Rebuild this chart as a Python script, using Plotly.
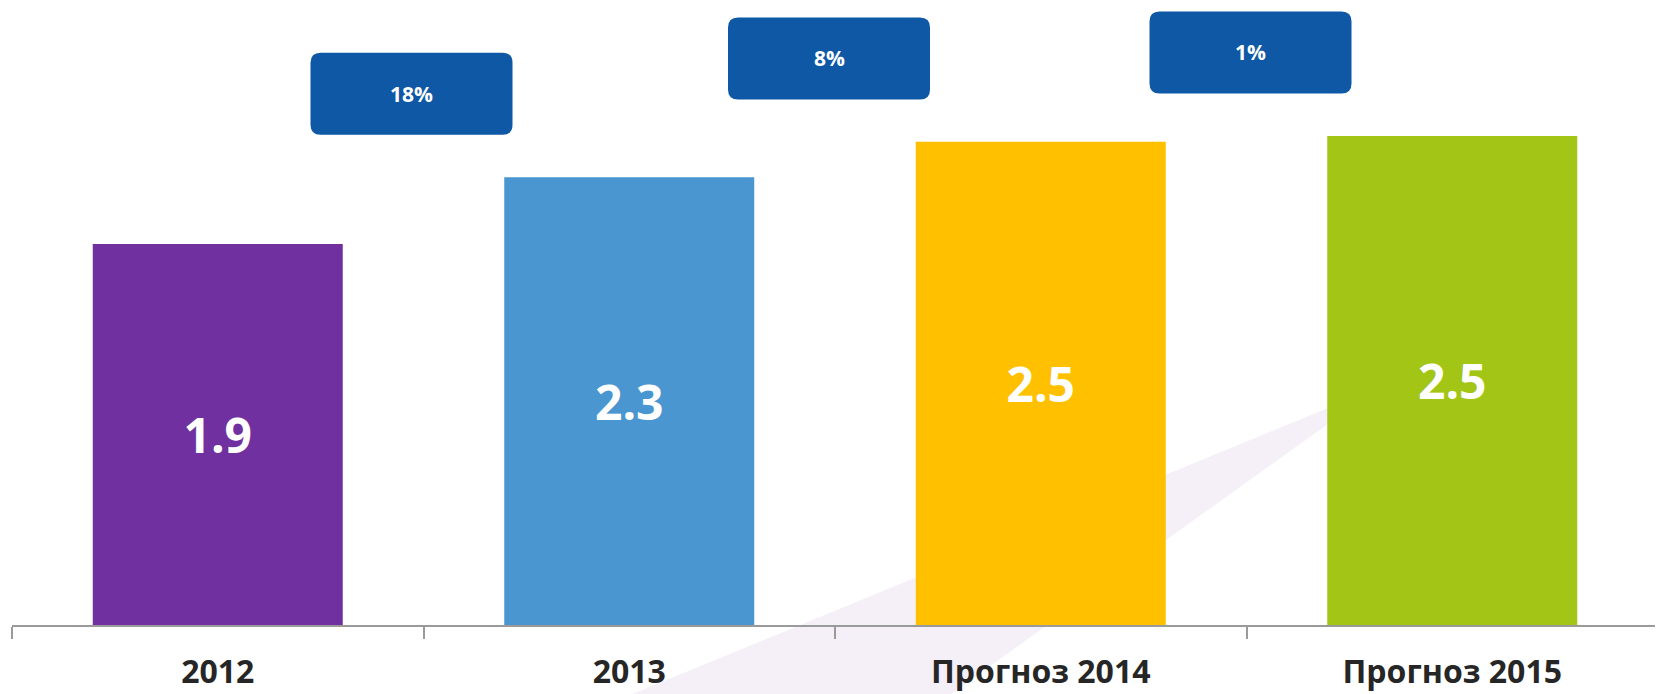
import plotly.graph_objects as go

# ---- data ----
categories = ["2012", "2013", "Прогноз 2014", "Прогноз 2015"]
values = [1.94, 2.28, 2.46, 2.49]
value_labels = ["1.9", "2.3", "2.5", "2.5"]
bar_colors = ["#7030A0", "#4A96D0", "#FFC000", "#A3C516"]
growth_labels = ["18%", "8%", "1%"]

# ---- style ----
PAGE_PAD = 8                      # default body margin of the html page
W, H = 1663 - PAGE_PAD, 694 - PAGE_PAD
L, R, T, B = 4, 5, 0, 69
plot_w = W - L - R
plot_h = H - T - B
px_per_unit = 196.4
y_max = plot_h / px_per_unit
cat_px = plot_w / len(categories)

box_w = 202 / cat_px          # in category units
box_h = 82 / px_per_unit      # in value units
rx = 10 / cat_px
ry = 10 / px_per_unit
box_offset = 0.425            # box centre above the next bar's top
box_dx_px = [-12, -6, 4]      # small horizontal nudges of the boxes
box_color = "#0E58A5"
text_dark = "#262626"
axis_gray = "#9A9A9A"
FONT = "Open Sans"

fig = go.Figure()
fig.add_trace(go.Bar(
    x=categories, y=values,
    marker=dict(color=bar_colors, line=dict(width=0)),
    width=250 / cat_px,
    text=value_labels, textposition="inside", insidetextanchor="middle",
    textangle=0,
    textfont=dict(family=FONT, size=48, color="white", weight="bold"),
    hoverinfo="skip",
))

shapes = []
annotations = []


def rounded_rect(x0, y0, x1, y1):
    return (f"M {x0+rx},{y0} L {x1-rx},{y0} Q {x1},{y0} {x1},{y0+ry} "
            f"L {x1},{y1-ry} Q {x1},{y1} {x1-rx},{y1} L {x0+rx},{y1} "
            f"Q {x0},{y1} {x0},{y1-ry} L {x0},{y0+ry} Q {x0},{y0} {x0+rx},{y0} Z")


for i, lab in enumerate(growth_labels):
    xc = i + 0.5 + box_dx_px[i] / cat_px
    yc = values[i + 1] + box_offset
    shapes.append(dict(
        type="path", xref="x", yref="y",
        path=rounded_rect(xc - box_w / 2, yc - box_h / 2, xc + box_w / 2, yc + box_h / 2),
        fillcolor=box_color, line=dict(width=0), layer="above",
    ))
    annotations.append(dict(
        x=xc, y=yc, xref="x", yref="y", text=lab, showarrow=False,
        font=dict(family=FONT, size=21, color="white", weight="bold"),
    ))


# faint decorative diagonal band behind the bars (page pixel -> paper)
def pp(px, py):
    return f"{(px - 12) / plot_w:.4f},{(625 - py) / plot_h:.4f}"


shapes.append(dict(
    type="path", xref="paper", yref="paper",
    path=f"M {pp(613, 702)} L {pp(1328, 408)} L {pp(1328, 424)} L {pp(940, 702)} Z",
    fillcolor="#F5F0F8", line=dict(width=0), layer="below",
))

fig.update_layout(
    width=W, height=H,
    margin=dict(l=L, r=R, t=T, b=B),
    paper_bgcolor="white", plot_bgcolor="rgba(0,0,0,0)",
    showlegend=False,
    shapes=shapes, annotations=annotations,
    font=dict(family=FONT),
    xaxis=dict(
        type="category", range=[-0.5, len(categories) - 0.5],
        showline=True, linecolor=axis_gray, linewidth=2,
        ticks="outside", tickson="boundaries", ticklen=12,
        tickcolor=axis_gray, tickwidth=2,
        showgrid=False, zeroline=False,
        tickfont=dict(family=FONT, size=32, color=text_dark, weight="bold"),
        ticklabelstandoff=18,
    ),
    yaxis=dict(range=[0, y_max], visible=False, showgrid=False, zeroline=False),
)

fig.write_html("out.html")
